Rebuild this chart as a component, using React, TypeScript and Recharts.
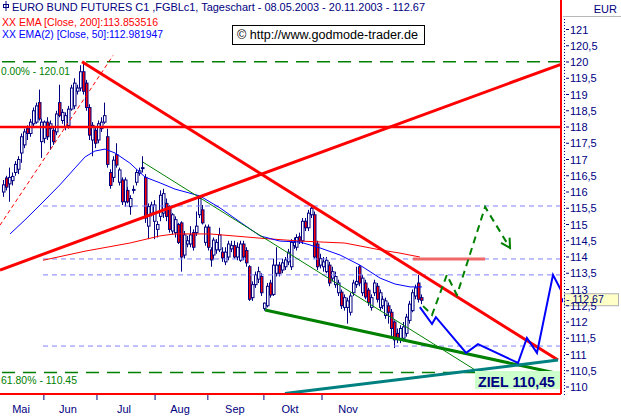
import React from 'react';
import { ComposedChart, Bar, Line, XAxis, YAxis, ReferenceLine } from 'recharts';

// ---- candle data (one per trading day, index 0..141) ----
const opens = [116.0,116.43,116.25,116.35,116.6,116.7,117.2,117.45,117.95,117.8,118.1,118.15,118.75,117.55,117.65,118.15,117.95,117.9,117.85,118.75,118.2,118.0,118.05,118.55,118.65,119.1,119.2,119.7,119.35,118.6,117.6,117.9,117.6,117.95,118.15,117.7,116.6,116.45,117.15,116.3,116.37,115.7,116.05,115.55,116.05,116.3,116.58,116.75,116.45,114.95,115.35,115.1,114.85,115.25,115.35,115.65,115.55,114.8,114.75,115.0,115.05,114.06,114.4,114.4,114.75,114.75,115.3,115.45,114.45,114.92,114.22,114.06,114.22,114.22,114.15,113.85,114.0,114.25,114.35,114.0,113.9,114.4,114.2,113.7,112.75,113.15,113.32,113.4,112.42,112.5,113.2,112.85,113.5,113.75,113.6,113.7,113.85,113.7,114.35,114.3,114.62,114.5,115.1,114.9,115.3,115.3,114.4,113.75,113.7,113.55,113.75,113.35,113.15,112.9,112.92,112.45,112.45,112.3,112.9,113.15,113.7,112.9,113.2,112.98,112.45,112.9,113.1,112.45,112.5,112.2,112.5,112.3,112.0,111.65,111.45,111.5,111.65,112.05,112.35,112.8,113.2,112.75];
const highs = [116.37,116.5,116.75,116.6,116.95,117.1,117.8,117.95,118.05,118.25,118.6,118.75,119.15,118.25,118.2,118.3,118.2,118.0,118.5,119.3,118.55,118.45,118.65,119.3,119.5,119.3,119.9,120.01,119.45,118.7,118.15,118.0,118.2,118.3,118.75,117.95,116.7,117.1,117.5,116.75,116.45,116.45,116.15,115.9,116.2,116.7,116.75,117.1,116.55,115.65,115.7,115.75,115.1,116.05,116.1,115.8,115.6,115.35,115.25,115.05,115.1,114.8,114.65,114.95,114.85,115.4,115.85,115.6,115.0,115.0,114.3,114.6,114.55,114.9,114.3,114.3,114.5,114.5,114.5,114.45,114.5,114.5,114.3,113.75,113.25,113.55,113.7,113.5,112.6,113.2,113.3,113.95,114.3,113.85,113.95,114.0,114.25,114.55,114.6,114.7,114.75,115.2,115.2,115.45,115.55,115.4,114.5,114.1,114.0,114.0,113.85,113.7,113.55,113.3,113.0,112.85,112.75,112.9,113.3,113.7,113.75,113.45,113.3,113.05,112.85,113.3,113.2,113.0,112.8,112.75,112.6,112.4,112.05,111.8,111.9,112.0,112.25,112.65,113.0,113.15,113.45,112.85];
const lows = [115.85,116.05,115.7,116.2,116.5,116.55,116.9,117.35,117.6,117.7,118.0,118.1,118.2,117.05,117.5,117.6,117.3,117.45,117.75,118.3,118.1,117.9,117.95,118.5,118.55,119.0,119.1,119.0,118.5,117.6,117.1,117.35,117.5,117.85,118.1,116.75,116.1,116.3,116.75,116.2,115.6,115.55,115.65,115.3,115.95,116.2,116.5,116.6,115.05,114.55,115.25,114.55,114.6,115.1,115.2,115.1,114.75,114.7,114.6,114.4,113.55,113.95,114.3,114.3,114.2,114.65,115.2,115.0,114.35,114.2,113.7,113.95,114.1,114.15,113.85,113.75,113.9,114.15,113.95,113.9,113.85,113.9,113.7,112.65,112.65,113.05,113.2,112.8,112.35,112.45,112.75,112.8,113.4,113.4,113.5,113.6,113.75,113.6,114.25,114.2,114.4,114.4,114.8,114.8,115.2,113.95,113.6,113.65,113.55,113.5,113.1,113.25,113.05,112.8,112.4,112.35,111.95,112.2,112.8,113.05,113.1,112.8,112.7,112.5,112.35,112.8,112.6,112.35,112.4,112.1,111.95,111.55,111.2,111.35,111.35,111.4,111.55,111.95,112.3,112.7,112.6,112.55];
const closes = [116.22,116.15,116.45,116.48,116.85,117.0,117.7,117.85,117.8,118.15,118.5,118.65,118.25,118.15,118.15,117.7,118.1,117.55,118.4,118.35,118.45,118.35,118.55,119.2,119.35,119.2,119.7,119.1,118.6,117.75,118.05,117.5,118.1,118.15,118.35,116.85,116.2,116.98,116.83,116.68,115.7,116.37,115.7,115.8,116.08,116.6,116.65,116.75,115.2,115.55,115.6,115.6,115.0,115.9,115.95,115.25,114.85,115.3,115.15,114.45,114.0,114.68,114.5,114.68,114.3,114.95,115.8,115.05,114.92,114.3,113.91,114.52,114.45,114.68,113.97,114.15,114.4,114.35,114.0,114.3,114.4,114.0,113.82,112.7,113.15,113.45,113.55,112.9,112.58,113.1,112.83,113.75,113.75,113.5,113.82,113.91,114.15,114.45,114.45,114.6,114.5,115.1,114.9,115.35,115.5,114.0,113.7,113.95,113.85,113.9,113.2,113.55,113.4,113.2,112.5,112.75,112.65,112.8,113.2,113.25,113.2,113.35,112.77,112.6,112.75,113.2,112.7,112.9,112.7,112.65,112.3,111.8,111.45,111.5,111.8,111.85,112.15,112.55,112.9,113.05,112.7,112.67];

// ---- moving averages (sampled points) ----
const ema200X = [13.5, 27.7, 42.8, 53, 58, 69.8, 86.7, 100.2, 115.3, 127.2, 133.9, 140.6];
const ema200V = [113.9, 114.18, 114.43, 114.65, 114.71, 114.71, 114.58, 114.49, 114.43, 114.22, 114.12, 114.0];
const ema50X = [2.4, 7.4, 12.5, 19.2, 24.3, 27.7, 31, 34.4, 37.8, 42.8, 47.9, 53, 58, 66.4, 73.2, 79.9, 86.7, 93.4, 100.2, 106.9, 113.7, 120.4, 127.2, 132.2, 137.3, 141.3];
const ema50V = [114.71, 115.14, 115.6, 116.22, 116.74, 117.08, 117.26, 117.32, 117.2, 116.89, 116.46, 116.28, 116.09, 115.88, 115.51, 115.08, 114.65, 114.49, 114.46, 114.28, 114.06, 113.75, 113.35, 113.17, 113.08, 113.08];

// ---- projections ----
const blueProjX = [140.6, 144.7, 146.0, 156.2, 160.2, 173.7, 176.7, 180.1, 185.5, 188.2];
const blueProjV = [112.46, 111.94, 112.15, 111.05, 111.32, 110.74, 111.51, 111.05, 113.45, 112.98];
const greenProjX = [141.7, 144.7, 149.7, 153.1, 162.6, 171.0];
const greenProjV = [112.49, 112.22, 113.45, 112.83, 115.54, 114.28];

// ---- trend lines [x1, y1, x2, y2] ----
const redFalling = [26.66, 120.01, 187.2, 110.83];
const redRising = [-1, 113.6, 188.2, 119.93];
const redThinDashed = [-1, 114.98, 37.1, 120.2];
const greenThin = [47.2, 116.92, 160.9, 110.43];
const greenThick = [88.4, 112.37, 187.9, 110.4];
const tealLine = [95.1, 109.8, 187.2, 110.83];
const emaTarget = [138.3, 162.6, 113.94];

const resistance118 = 118;
const fib0 = 120.01;
const fib618 = 110.45;
const dashedLevels = [115.57, 113.94, 113.45, 111.26];
const dashedStart = 13.5;
const lastPrice = 112.67;

// ---- axes ----
const monthLabels = ['Mai', 'Jun', 'Jul', 'Aug', 'Sep', 'Okt', 'Nov'];
const monthLabelPos = [6.1, 21.9, 40.8, 59.7, 78.2, 96.8, 116.4];
const monthBoundaries = [13.8, 31.7, 51.3, 69.1, 88.0, 107.6];
const yTicks = [110, 110.5, 111, 111.5, 112, 112.5, 113, 113.5, 114, 114.5, 115, 115.5, 116, 116.5, 117, 117.5, 118, 118.5, 119, 119.5, 120, 120.5, 121];

const X_DOMAIN: [number, number] = [-1, 188.2];
const Y_DOMAIN: [number, number] = [109.785, 121.908];

const rows = opens.map((o, i) => ({ i, o, h: highs[i], l: lows[i], c: closes[i], range: [lows[i], highs[i]] }));
const toPts = (xs: number[], vs: number[]) => xs.map((x, k) => ({ i: x, v: vs[k] }));

const NAVY = '#000080';
const FONT = '"Liberation Sans", Arial, sans-serif';

const Candle = (props: any) => {
  const { x, y, width, height, payload } = props;
  if (!payload || x == null) return null;
  const { o, h, l, c } = payload;
  const top = Math.min(y, y + height);
  const span = Math.abs(height);
  const k = h - l > 0 ? span / (h - l) : 0;
  const Y = (v: number) => top + (h - v) * k;
  const px = Math.round(x + width / 2);
  const up = c >= o;
  const bTop = Y(Math.max(o, c));
  const bBot = Y(Math.min(o, c));
  return (
    <g>
      <line x1={px + 0.5} x2={px + 0.5} y1={Y(h)} y2={Y(l)} stroke={NAVY} strokeWidth={1} />
      <rect x={px - 0.5} y={bTop} width={2.5} height={Math.max(bBot - bTop, 1)} fill={up ? '#ffffff' : '#ff0000'} stroke={NAVY} strokeWidth={1} />
    </g>
  );
};

const XTick = (props: any) => {
  const { x, y, payload } = props;
  const v = payload.value;
  const bi = monthBoundaries.indexOf(v);
  if (bi >= 0) return <line x1={x} x2={x} y1={y + 1} y2={y + 6} stroke={NAVY} strokeWidth={1} />;
  const li = monthLabelPos.indexOf(v);
  return (
    <text x={x} y={y + 19} textAnchor="middle" fontSize={11} fill={NAVY} fontFamily={FONT}>
      {monthLabels[li]}
    </text>
  );
};

const YTick = (props: any) => {
  const { x, y, payload } = props;
  return (
    <g>
      <line x1={x + 5} x2={x + 8} y1={y} y2={y} stroke={NAVY} strokeWidth={1} />
      <text x={x + 9} y={y + 4} fontSize={11} fill={NAVY} fontFamily={FONT}>
        {String(payload.value).replace('.', ',')}
      </text>
    </g>
  );
};

const PriceTag = (props: any) => {
  const vb = props.viewBox || {};
  const right = (vb.x || 0) + (vb.width || 0);
  const yy = vb.y || 0;
  return (
    <g>
      <rect x={right - 1} y={yy - 2} width={3} height={4} fill="#0000ff" />
      <rect x={right + 3.5} y={yy - 6.5} width={54} height={12} fill="#ffffc8" stroke="#b0b0b0" strokeWidth={1} />
      <text x={right + 5} y={yy + 3} fontSize={10.5} fill={NAVY} fontFamily={FONT}>- {String(lastPrice)}</text>
    </g>
  );
};

const seg = (a: number[]) => [{ x: a[0], y: a[1] }, { x: a[2], y: a[3] }];

const lineProps = { dot: false, activeDot: false, legendType: 'none' as const, isAnimationActive: false, type: 'linear' as const };

export default function App() {
  return (
    <div style={{ position: 'absolute', left: 0, top: 0, width: 621, height: 417, background: '#ffffff', fontFamily: FONT }}>
      <svg width={0} height={0} style={{ position: 'absolute' }}>
        <defs>
          <marker id="greenArrow" viewBox="0 0 12 12" refX={10} refY={6} markerWidth={12} markerHeight={12} markerUnits="userSpaceOnUse" orient="auto">
            <path d="M1,1 L10,6 L1,11" fill="none" stroke="#008000" strokeWidth={2} strokeDasharray="none" />
          </marker>
        </defs>
      </svg>
      <ComposedChart width={621} height={417} data={rows} margin={{ top: 0, right: 0, bottom: 0, left: 0 }}>
        <XAxis
          dataKey="i"
          type="number"
          domain={X_DOMAIN}
          allowDataOverflow
          ticks={[...monthBoundaries, ...monthLabelPos].sort((a, b) => a - b)}
          interval={0}
          tick={<XTick />}
          tickLine={false}
          tickSize={0}
          tickMargin={0}
          height={23}
          axisLine={{ stroke: '#ff0000', strokeWidth: 2 }}
        />
        <YAxis
          orientation="right"
          type="number"
          domain={Y_DOMAIN}
          allowDataOverflow
          ticks={yTicks}
          interval={0}
          width={60}
          tick={<YTick />}
          tickLine={false}
          tickSize={0}
          tickMargin={0}
          axisLine={{ stroke: '#ff0000', strokeWidth: 2 }}
        />
        {dashedLevels.map((lv, k) => (
          <ReferenceLine key={'d' + k} segment={[{ x: dashedStart, y: lv }, { x: X_DOMAIN[1], y: lv }]} stroke="#8080ff" strokeDasharray="5 4" strokeWidth={1} ifOverflow="visible" />
        ))}
        <ReferenceLine y={fib0} stroke="#008000" strokeDasharray="13 8" strokeWidth={1.5} />
        <ReferenceLine y={fib618} stroke="#008000" strokeDasharray="13 8" strokeWidth={1.5} />
        <Bar dataKey="range" shape={Candle} isAnimationActive={false} barSize={3} legendType="none" />
        <Line data={toPts(ema200X, ema200V)} dataKey="v" stroke="#ff0000" strokeWidth={1} {...lineProps} />
        <Line data={toPts(ema50X, ema50V)} dataKey="v" stroke="#0000ff" strokeWidth={1} {...lineProps} />
        <ReferenceLine y={resistance118} stroke="#ff0000" strokeWidth={2.5} />
        <ReferenceLine segment={seg(redThinDashed)} stroke="#ff0000" strokeWidth={1} strokeDasharray="4 3" ifOverflow="visible" />
        <ReferenceLine segment={seg(greenThin)} stroke="#008000" strokeWidth={1} ifOverflow="visible" />
        <ReferenceLine segment={[{ x: emaTarget[0], y: emaTarget[2] }, { x: emaTarget[1], y: emaTarget[2] }]} stroke="#f06868" strokeWidth={3} ifOverflow="visible" />
        <ReferenceLine segment={seg(redRising)} stroke="#ff0000" strokeWidth={3} ifOverflow="visible" />
        <ReferenceLine segment={seg(redFalling)} stroke="#ff0000" strokeWidth={3} ifOverflow="visible" />
        <ReferenceLine segment={seg(greenThick)} stroke="#008000" strokeWidth={3} ifOverflow="visible" />
        <ReferenceLine segment={seg(tealLine)} stroke="#008080" strokeWidth={3} ifOverflow="visible" />
        <Line data={toPts(blueProjX, blueProjV)} dataKey="v" stroke="#0000ff" strokeWidth={2} {...lineProps} />
        <Line data={toPts(greenProjX, greenProjV)} dataKey="v" stroke="#008000" strokeWidth={2} strokeDasharray="7 5" markerEnd="url(#greenArrow)" {...lineProps} />
        <ReferenceLine y={lastPrice} stroke="none" label={<PriceTag />} />
      </ComposedChart>
      <svg width={621} height={417} style={{ position: 'absolute', left: 0, top: 0, pointerEvents: 'none' }} fontFamily={FONT}>
        {/* axis header */}
        <text x={617} y={13} textAnchor="end" fontSize={11} fill={NAVY}>EUR</text>
        <line x1={563} x2={621} y1={16.5} y2={16.5} stroke="#b8b8b8" strokeWidth={1} />
        <line x1={564.5} x2={564.5} y1={19} y2={395} stroke={NAVY} strokeWidth={1} strokeDasharray="1 2" />
        {/* legend */}
        <rect x={3.5} y={4.5} width={5} height={3} fill="none" stroke={NAVY} strokeWidth={1} />
        <line x1={6} x2={6} y1={1} y2={11} stroke={NAVY} strokeWidth={1} />
        <text x={12} y={11} fontSize={11} fill={NAVY} textLength={413} lengthAdjust="spacingAndGlyphs">EURO BUND FUTURES C1 ,FGBLc1, Tageschart - 08.05.2003 - 20.11.2003 - 112.67</text>
        <text x={2} y={26} fontSize={11} fill="#ff0000" textLength={156} lengthAdjust="spacingAndGlyphs">XX EMA [Close, 200]:113.853516</text>
        <text x={2} y={38} fontSize={11} fill="#0000ff" textLength={161} lengthAdjust="spacingAndGlyphs">XX EMA(2) [Close, 50]:112.981947</text>
        <rect x={232.5} y={25.5} width={192} height={19} fill="#ffffff" stroke="#000000" strokeWidth={1} />
        <text x={237} y={39} fontSize={12} fill="#000000" textLength={181} lengthAdjust="spacingAndGlyphs">© http://www.godmode-trader.de</text>
        <text x={1} y={75} fontSize={11} fill="#008000" textLength={69} lengthAdjust="spacingAndGlyphs">0.00% - 120.01</text>
        <text x={1} y={384} fontSize={11} fill="#008000" textLength={76} lengthAdjust="spacingAndGlyphs">61.80% - 110.45</text>
        <rect x={475} y={371} width={85} height={18} fill="#ccffcc" />
        <text x={478} y={387} fontSize={15} fontWeight="bold" fill={NAVY} textLength={77} lengthAdjust="spacingAndGlyphs">ZIEL 110,45</text>
      </svg>
    </div>
  );
}
